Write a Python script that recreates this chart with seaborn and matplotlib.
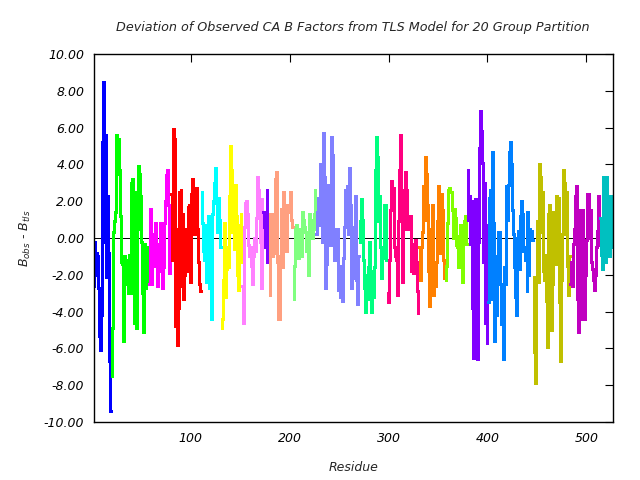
import numpy as np
import pandas as pd
import matplotlib
matplotlib.use("Agg")
import matplotlib.pyplot as plt
from matplotlib.ticker import FormatStrFormatter
import seaborn as sns

# ---- data: per-residue deviation values, one list per TLS group ----
first_residue = 2
group_names = ["g01", "g02", "g03", "g04", "g05", "g06", "g07", "g08", "g09", "g10",
               "g11", "g12", "g13", "g14", "g15", "g16", "g17", "g18", "g19", "g20"]
group_colors = ["#0000ff", "#00ff00", "#ff00ff", "#ff0000", "#00ffff", "#ffff00",
                "#ff80ff", "#8000ff", "#ffa080", "#80ff80", "#8080ff", "#00ff80",
                "#ff0080", "#ff8000", "#80ff00", "#8000ff", "#0080ff", "#c0c000",
                "#c000c0", "#00c0c0"]

g01 = [-2.6, -0.2, -2.0, -0.8, -1.0, -2.7, -5.3, -6.1, -4.2, 5.2, 8.5, -0.2, 5.6, -2.1, 2.3, -0.8, -6.7, -9.4]
g02 = [-7.5, -4.9, 0.3, 0.9, 1.4, 5.6, 3.5, 5.4, 3.7, 1.2, -1.3, -1.4, -5.6, -1.0, -2.5, -1.2, -2.0, -3.0, -0.9,
       -3.0, 3.0, 3.2, -1.0, -4.6, 2.5, -4.9, 0.5, 3.9, 3.5, 2.3, -0.2, -3.0, -5.1, -0.3, -2.7, -0.6, -2.4, -0.5]
g03 = [-2.5, 1.6, -2.5, -0.5, 0.2, -1.5, 0.8, -0.3, -2.6, -0.3, -1.8, 0.8, 0.4, -2.7, -1.6, 0.8, 2.0, 3.4, 3.7,
       1.8, -1.9, -0.6]
g04 = [2.4, -1.2, 5.9, 5.4, -4.8, 0.5, -5.8, -3.8, 2.5, -1.5, 2.6, -2.6, 1.3, -3.3, -2.0, -0.3, 0.5, -1.8, 1.7,
       1.8, -2.4, 2.4, 3.2, 1.8, 0.2, 1.9, 2.7, 0.5, -1.3, -2.5, -2.9]
g05 = [2.5, 0.8, -0.7, -1.2, 0.7, -2.4, -1.4, 1.2, -2.7, -1.0, -4.4, 1.3, 2.0, 3.0, 3.8, 1.9, 0.3, 2.2, 1.0, -0.5]
g06 = [-4.9, -4.4, -2.3, 0.8, -3.2, -1.7, -0.5, -1.6, 2.3, 5.0, 3.7, 0.3, 1.3, -0.6, 2.9, 1.2, -2.0, -2.8, 0.7,
       -1.3, 1.3]
g07 = [-2.6, -4.6, 0.6, 1.9, 2.0, 1.3, -0.4, -1.0, -0.5, -1.5, -2.5, -1.0, 0.0, -0.7, 1.1, 3.3, 2.6, 2.0, -0.2,
       -2.7, 2.1]
g08 = [1.4, 0.6, -0.5, 0.8, 2.6, -1.3, -0.3]
g09 = [-3.1, 1.3, 1.3, -1.0, 0.3, -0.8, 3.2, 3.6, -1.3, -4.4, -4.4, -1.0, 1.6, -1.6, 2.5, 1.8, 0.0, -0.7, 1.4,
       1.8, 1.8, 2.5, 1.0, 0.6]
g10 = [-3.3, -1.5, 0.5, 0.7, -0.3, -1.1, 0.5, -0.5, -1.0, 1.4, 1.0, 0.6, 0.3, -0.7, 0.1, -2.0, 1.3, 0.5, 1.0,
       0.0, 0.5, 1.3, 2.6]
g11 = [0.2, 1.4, 2.2, 0.7, 4.0, 2.7, -0.2, 5.7, 3.3, -2.7, -1.4, 2.9, 0.7, 2.9, -0.4, 5.5, 4.5, -0.2, -1.2, 0.5,
       -0.8, 0.5, -2.8, -1.5, -3.2, -1.5, -3.4, -1.1, 0.6, 2.6, 1.3, 2.8, 0.2, 3.8, 1.8, -2.7, -1.3, 0.6, -2.2,
       -1.0, 2.3, -2.3, -3.6, -1.0]
g12 = [-0.2, 0.9, 2.1, 1.0, -1.2, -2.7, -4.0, -2.0, -3.3, -1.6, -0.2, -2.3, -4.0, -1.8, -3.2, -1.6, 3.7, 5.5,
       4.4, 0.9, 2.3, -0.5, -2.2, -0.7, -1.1, 1.8, 1.8, -1.2]
g13 = [-3.0, -3.5, -1.2, 1.5, 3.1, 2.1, 2.7, -0.5, -1.0, -1.2, -3.1, 0.9, 3.7, 5.6, 2.6, -2.4, 2.3, 0.5, 3.6,
       2.6, 0.5, 1.2, 0.6, 1.2, -1.8, -0.3, -1.9, -1.0, -0.1, -1.3, -2.9, -4.1]
g14 = [-0.5, -2.3, -0.5, 0.3, 2.8, 1.0, 4.4, 3.5, 1.8, -1.8, -3.7, 0.5, -1.8, 1.8, -3.1, -1.9, -2.6, -1.3, 0.9,
       2.8, 0.3, 2.0, -0.8, 2.4, 1.5, -1.2, -2.2]
g15 = [-2.3, -1.5, 0.8, 2.6, 2.7, 2.5, 2.5, 1.5, 0.0, 1.6, 1.1, -0.4, -0.5, -1.6, 0.1, 0.7, -0.5, -2.4, -0.2,
       0.9, 1.2, -0.3]
g16 = [3.7, 1.0, 2.3, -0.3, 2.0, -3.8, -6.5, -2.7, 2.1, -4.3, -6.6, -0.2, 4.9, 6.9, 5.8, 4.1, -1.3, 3.0, -4.6,
       0.7, -5.7]
g17 = [-3.5, 2.2, 2.6, -3.3, 4.7, 0.8, -5.6, -2.6, -4.2, -1.0, 0.3, 0.3, -2.5, -4.7, -3.0, -6.6, -1.6, -2.5,
       2.8, 1.0, 2.9, 4.7, 5.2, 4.0, 1.5, 0.2, -1.6, -3.2, -4.2, 0.0, 0.4, -1.7, 1.2, 2.0, 1.3, -0.7, -0.5, -1.2,
       -0.5, -2.9, 1.4, -2.0, 0.5, 0.3, 0.4, -0.1]
g18 = [-2.1, -6.2, -7.9, -2.4, 0.9, -2.4, 4.0, 3.3, 0.3, 2.5, -1.8, -2.3, -0.9, -3.4, -5.9, 1.3, 1.8, -3.1,
       -5.0, -2.5, 1.4, 0.9, -1.4, 2.3, 0.7, 2.2, -3.5, -6.7, -2.3, 0.2, 3.7, 3.0, 0.2, 2.5, -1.5, -3.1, -1.0]
g19 = [-2.5, -1.3, -2.6, -0.3, 0.5, 2.3, 2.8, -3.3, -5.1, -1.5, 1.5, -4.4, 1.5, -2.5, -4.4, -2.0, -0.1, 2.4,
       2.4, 0.0, 1.5, -1.3, -1.7, -2.3, -2.8, -2.0, -0.5, 0.4, 2.3, -0.4]
g20 = [1.1, -0.9, -1.7, 3.3, 1.6, -1.3, 3.3, -1.0, 0.3, -1.0, 2.3, -0.5, 0.0, -0.3]

groups = [g01, g02, g03, g04, g05, g06, g07, g08, g09, g10,
          g11, g12, g13, g14, g15, g16, g17, g18, g19, g20]

title = "Deviation of Observed CA B Factors from TLS Model for 20 Group Partition"
y_ticks = [-10, -8, -6, -4, -2, 0, 2, 4, 6, 8, 10]
x_ticks = [100, 200, 300, 400, 500]

# ---- build long table ----
rows = []
res = first_residue
for name, vals in zip(group_names, groups):
    for v in vals:
        rows.append((res, v, name))
        res += 1
df = pd.DataFrame(rows, columns=["residue", "dev", "group"])
last_residue = res - 1

sns.set_theme(style="white")
plt.rcParams["font.family"] = ["DejaVu Sans"]
plt.rcParams["font.style"] = "italic"
plt.rcParams["mathtext.fontset"] = "dejavusans"
plt.rcParams["mathtext.default"] = "it"

fig = plt.figure(figsize=(6.4, 4.8), dpi=100)
ax = fig.add_axes([94 / 640, 1 - 422 / 480, (613 - 94) / 640, (422 - 54) / 480])

ax.axhline(0, color="black", lw=0.7, zorder=1)
sns.lineplot(data=df, x="residue", y="dev", hue="group", units="group",
             estimator=None, palette=dict(zip(group_names, group_colors)),
             legend=False, lw=2.0, drawstyle="steps-mid", antialiased=False,
             ax=ax, zorder=2)

ax.set_xlim(first_residue, last_residue)
ax.set_ylim(-10, 10)
ax.set_yticks(y_ticks)
ax.set_xticks(x_ticks)
ax.yaxis.set_major_formatter(FormatStrFormatter("%.2f"))
ax.tick_params(direction="in", length=6, width=0.8, top=True, right=True,
               labelsize=9, pad=7, colors="black")
for lab in ax.get_xticklabels() + ax.get_yticklabels():
    lab.set_fontstyle("italic")
for sp in ax.spines.values():
    sp.set_color("black")
    sp.set_linewidth(1.0)

ax.set_xlabel("Residue", fontsize=9, style="italic", labelpad=12)
ax.set_ylabel(r"$B_{obs}$ - $B_{tls}$", fontsize=9, style="italic", labelpad=8)
fig.text(353 / 640, 1 - 27 / 480, title, ha="center", va="center",
         fontsize=9.2, style="italic")

fig.savefig("out.png", dpi=100)
